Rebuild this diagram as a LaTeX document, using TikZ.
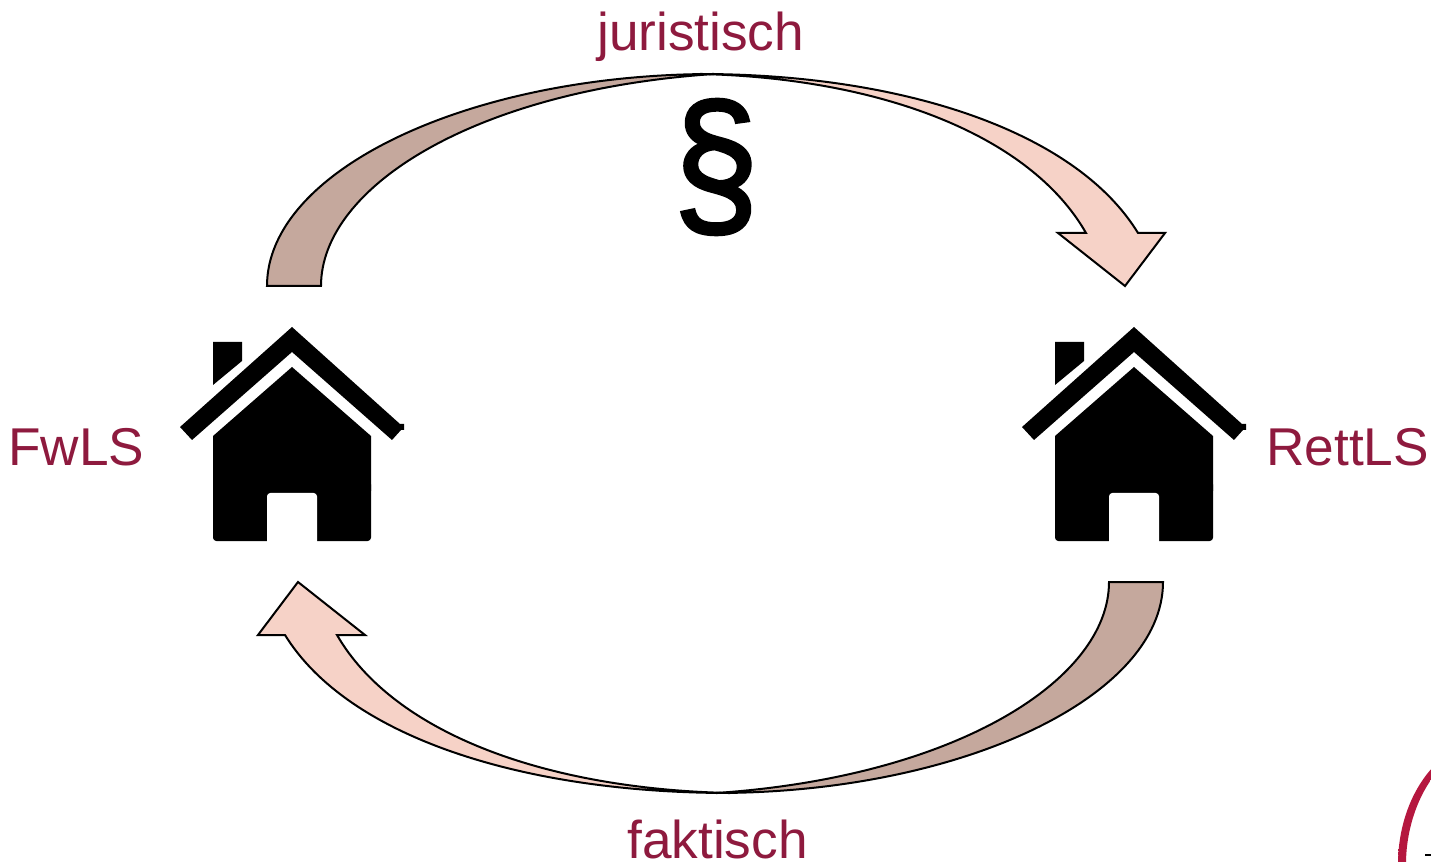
\documentclass[tikz,border=0pt]{standalone}
\usepackage{fontspec}
\setmainfont{Liberation Sans}
\newfontfamily\heavyfont[FakeBold=2]{Liberation Sans}
\definecolor{wine}{HTML}{8E1A3E}
\definecolor{darkarrow}{HTML}{C5A89D}
\definecolor{lightarrow}{HTML}{F6D2C7}
\definecolor{logored}{HTML}{B5173F}
\definecolor{logolight}{HTML}{C4505F}
\tikzset{
  label text/.style={text=wine,font=\fontsize{39.9}{44}\selectfont,inner sep=0pt,anchor=base west},
  arrowpart/.style={draw=black,line width=1.5pt,line join=miter},
  house/.pic={
    \fill[black] (0,-114) -- (108,-17) -- (112,-17) -- (112,-11) -- (109,-11) -- (100,-1) -- (0,-89) -- (-100,-1) -- (-112,-14) -- cycle;
    \fill[black] (-79,-99) -- (-50,-99) -- (-50,-80) -- (-79,-56) -- cycle;
    \fill[black] (0,-74) -- (79,-5) -- (79,50) -- (-79,50) -- (-79,-5) -- cycle;
    \fill[black,rounded corners=2.5pt] (-79,40) rectangle (79,100);
    \fill[white,rounded corners=2.5pt] (-25,102) -- (-25,52) -- (25,52) -- (25,102);
  }
}
\begin{document}
\begin{tikzpicture}[x=0.75pt,y=-0.75pt]
\useasboundingbox (0,0) rectangle (1431,862);
\fill[white] (0,0) rectangle (1431,862);

% top arrow
\filldraw[arrowpart,fill=lightarrow] (700,74) .. controls (900,74) and (1075,130) .. (1138,233)
  -- (1165,233) -- (1125,286) -- (1058,233) -- (1086,233)
  .. controls (1030,135) and (880,78) .. (700,74) -- cycle;
\filldraw[arrowpart,fill=darkarrow] (267,286) .. controls (267,170) and (470,74) .. (714,74)
  .. controls (475,90) and (321,187) .. (321,286) -- cycle;

% bottom arrow
\filldraw[arrowpart,fill=lightarrow] (730,793) .. controls (523,793) and (348,737) .. (285,635)
  -- (258,635) -- (298,582) -- (365,635) -- (337,635)
  .. controls (393,732) and (543,789) .. (730,793) -- cycle;
\filldraw[arrowpart,fill=darkarrow] (1163,582) .. controls (1163,697) and (960,793) .. (716,793)
  .. controls (955,777) and (1109,680) .. (1109,582) -- cycle;

% houses
\pic at (292,441) {house};
\pic at (1134,441) {house};

% labels
\node[label text] (jur) at (597,51) {juristisch};
\node[label text] (fak) at (627,858) {faktisch};
\node[label text] (fw) at (8,465) {FwLS};
\node[label text] (rett) at (1266,465) {RettLS};
\node[inner sep=0pt,xscale=1.03,yscale=1.12,font=\fontsize{112}{120}\heavyfont] (par) at (716,167) {§};

% logo fragment
\shade[top color=logored,middle color=logolight,bottom color=logored]
  (1433,767) .. controls (1409,793) and (1398,830) .. (1398,864)
  -- (1406,864) .. controls (1406,832) and (1416,800) .. (1433,777) -- cycle;
\draw[black,line width=1pt] (1425,855) -- (1431,855);
\end{tikzpicture}
\end{document}
